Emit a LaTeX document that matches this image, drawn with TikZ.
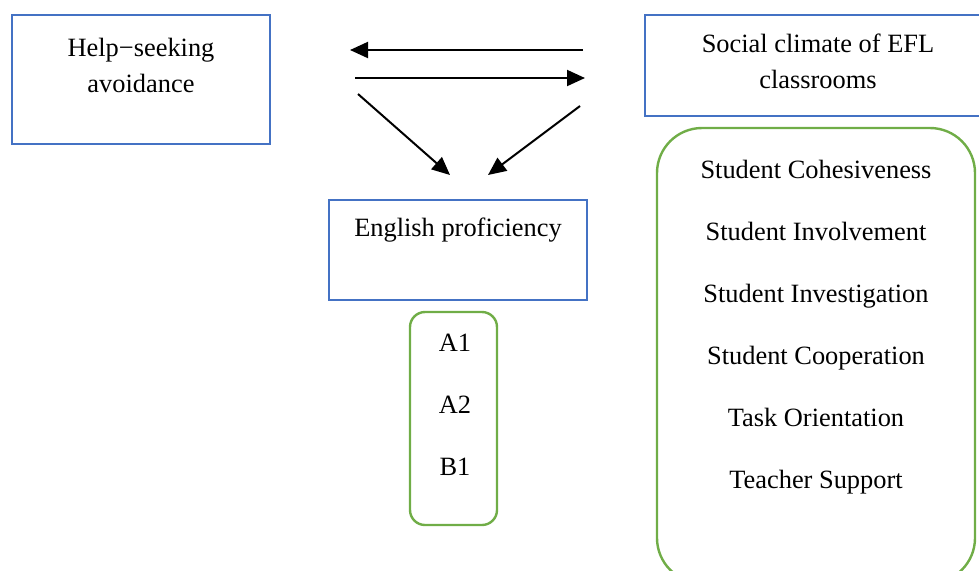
\documentclass[tikz,border=0pt]{standalone}
\usepackage{fontspec}
\setmainfont{Liberation Serif}
\usetikzlibrary{arrows.meta}
\definecolor{boxblue}{HTML}{4472C4}
\definecolor{boxgreen}{HTML}{70AD47}
\begin{document}
\begin{tikzpicture}[
  x=0.5pt, y=-0.5pt,
  every node/.style = {
    font=\fontsize{13.2}{18}\selectfont,
    inner sep=0pt
  },
  itemtxt/.style={text height=11pt, text depth=3pt},
  bluebox/.style={draw=boxblue, line width=1pt, minimum width=#1},
  greenbox/.style={draw=boxgreen, line width=1.2pt},
  relarrow/.style={-{Triangle[length=9pt,width=8pt]}, line width=1pt}
]
    \useasboundingbox (0,0) rectangle (979,570);
    \clip (0,0) rectangle (979,570);
    % main boxes
    \node[bluebox=129pt, minimum height=64.5pt] (help) at (141,79.5) {};
    \node[bluebox=172.5pt, minimum height=50.5pt] (climate) at (817,65.5) {};
    \node[bluebox=129pt, minimum height=50pt] (english) at (458,250) {};
    \node (helptxt) at (141,65) [align=center] {Help−seeking\\avoidance};
    \node (climatetxt) at (818,61) [align=center] {Social climate of EFL\\classrooms};
    \node[itemtxt] (englishtxt) at (458,228) {English proficiency};
    % sub boxes
    \node[greenbox, rounded corners=7.5pt, minimum width=43.5pt, minimum height=106.5pt] (levels) at (453.5,418.5) {};
    \node[greenbox, rounded corners=22.5pt, minimum width=159pt, minimum height=227.5pt] (scales) at (816,355.5) {};
    \foreach \t [count=\i, evaluate=\i as \y using {343+(\i-1)*62}] in {A1,A2,B1}{
        \node[itemtxt] (lvl\i) at (455,\y) {\t};
    }
    \foreach \t [count=\i, evaluate=\i as \y using {170+(\i-1)*62}] in {Student Cohesiveness,Student Involvement,Student Investigation,Student Cooperation,Task Orientation,Teacher Support}{
        \node[itemtxt] (sc\i) at (816,\y) {\t};
    }
    % arrow ends
    \coordinate (a1) at (583,50);
    \coordinate (a2) at (350,50);
    \coordinate (b1) at (355,78);
    \coordinate (b2) at (585,78);
    \coordinate (c1) at (358,94);
    \coordinate (c2) at (450,175);
    \coordinate (d1) at (580,106);
    \coordinate (d2) at (488,175);
    \draw[relarrow] (a1) -- (a2);
    \draw[relarrow] (b1) -- (b2);
    \draw[relarrow] (c1) -- (c2);
    \draw[relarrow] (d1) -- (d2);
\end{tikzpicture}
\end{document}
